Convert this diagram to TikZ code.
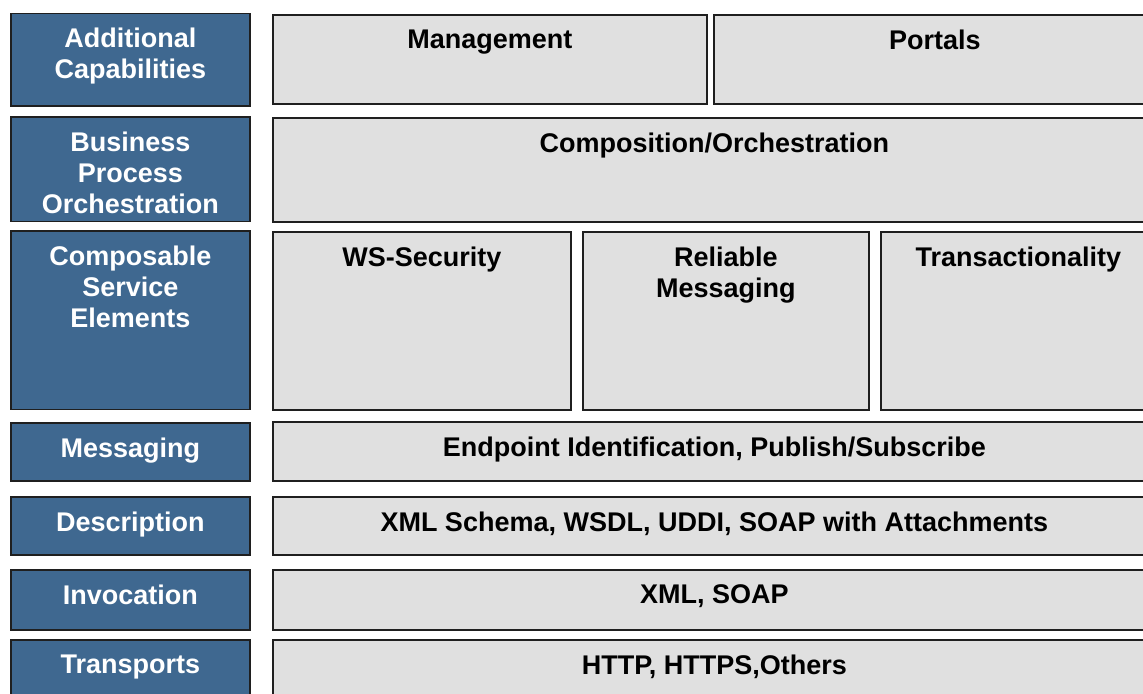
\documentclass[tikz,border=0pt]{standalone}
\usepackage{fontspec}
\setmainfont{Liberation Sans}
\definecolor{layerblue}{RGB}{63,104,144}
\definecolor{partgray}{RGB}{224,224,224}

\begin{document}
\begin{tikzpicture}[x=0.5pt, y=-0.5pt,
    every node/.append style={font=\bfseries\fontsize{13.5}{15.5}\selectfont},
    box/.style={draw=black!88, line width=0.8pt, anchor=north west, inner sep=0pt},
    layer/.style={box, fill=layerblue, minimum width=119.5pt},
    part/.style={box, fill=partgray},
    caption/.style={label={[anchor=north, yshift=-7.7pt, inner sep=0pt, align=center]north:{#1}}},
    wcaption/.style={label={[anchor=north, yshift=-7.7pt, inner sep=0pt, align=center, text=white]north:{#1}}}]
  \useasboundingbox (0,0) rectangle (1143,693);
  \clip (0,0) rectangle (1143,693);
  % layers on the left
  \node[layer, minimum height=46.25pt, wcaption={Additional\\Capabilities}] (add) at (10,12.5) {};
  \node[layer, minimum height=52.25pt, wcaption={Business\\Process\\Orchestration}] (bpo) at (10,116) {};
  \node[layer, minimum height=89.25pt, wcaption={Composable\\Service\\Elements}] (cse) at (10,230) {};
  \node[layer, minimum height=29pt, wcaption={Messaging}] (msg) at (10,422) {};
  \node[layer, minimum height=29pt, wcaption={Description}] (desc) at (10,496) {};
  \node[layer, minimum height=30pt, wcaption={Invocation}] (inv) at (10,569) {};
  \node[layer, minimum height=30pt, wcaption={Transports}] (trans) at (10,639) {};
  % parts on the right
  \node[part, minimum width=217pt, minimum height=44.5pt, caption={Management}] (mgmt) at (272,14) {};
  \node[part, minimum width=221pt, minimum height=44.5pt, caption={Portals}] (portals) at (713,14) {};
  \node[part, minimum width=441.5pt, minimum height=52pt, caption={Composition/Orchestration}] (comp) at (272,117) {};
  \node[part, minimum width=149pt, minimum height=89pt, caption={WS-Security}] (wssec) at (272,231) {};
  \node[part, minimum width=143pt, minimum height=89pt, caption={Reliable\\Messaging}] (relmsg) at (582,231) {};
  \node[part, minimum width=137.5pt, minimum height=89pt, caption={Transactionality}] (trx) at (880,231) {};
  \node[part, minimum width=441.5pt, minimum height=29.5pt, caption={Endpoint Identification, Publish/Subscribe}] (endp) at (272,421) {};
  \node[part, minimum width=441.5pt, minimum height=29pt, caption={XML Schema, WSDL, UDDI, SOAP with Attachments}] (schema) at (272,496) {};
  \node[part, minimum width=441.5pt, minimum height=30pt, caption={XML, SOAP}] (xmlsoap) at (272,569) {};
  \node[part, minimum width=441.5pt, minimum height=30pt, caption={HTTP, HTTPS,Others}] (http) at (272,639) {};
\end{tikzpicture}
\end{document}
